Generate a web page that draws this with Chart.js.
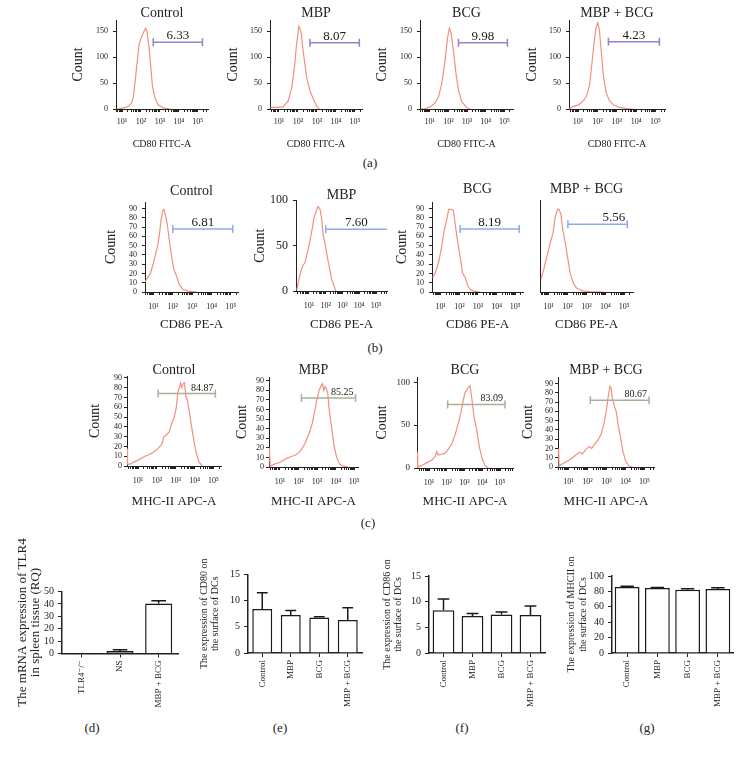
<!DOCTYPE html>
<html>
<head>
<meta charset="utf-8">
<script src="https://cdn.jsdelivr.net/npm/chart.js@4.4.1/dist/chart.umd.min.js"></script>
<style>
  html, body { margin: 0; padding: 0; background: #fff; }
  #fig { position: relative; width: 739px; height: 757px; overflow: hidden; }
  #fig canvas { position: absolute; }
  .cap { position: absolute; font: 13px "Liberation Serif", serif; color: #222; transform: translate(-50%, -50%); white-space: nowrap; }
</style>
</head>
<body>
<div id="fig"></div>
<script>
// ---------- data ----------
const groups = ['Control', 'MBP', 'BCG', 'MBP + BCG'];

// (a) CD80 FITC-A histograms (fluorescence, count)
const cd80ControlX = [5, 12, 21, 32, 40, 48, 65, 81, 110, 145, 182, 214, 275, 339, 407, 550, 813, 1510, 3390];
const cd80ControlY = [0, 2, 5, 12, 24, 50, 95, 127, 140, 150, 156, 147, 115, 76, 44, 21, 8, 2, 0];
const cd80MbpX = [3.6, 7.6, 17, 31, 47, 65, 85, 112, 145, 190, 290, 430, 650, 950, 1320];
const cd80MbpY = [3, 3, 4, 16, 41, 79, 125, 160, 150, 111, 60, 35, 19, 6, 0];
const cd80BcgX = [3.3, 5.6, 10.5, 19, 29, 44, 66, 89, 112, 138, 186, 257, 347, 513, 955, 1445];
const cd80BcgY = [0, 1, 4, 11, 23, 49, 93, 137, 156, 147, 112, 68, 36, 14, 3, 0];
const cd80BothX = [3.5, 5.8, 10.5, 19, 28, 39, 51, 68, 85, 105, 126, 155, 204, 282, 417, 676, 1480, 3310, 7240];
const cd80BothY = [1, 5, 8, 16, 26, 45, 84, 129, 157, 167, 154, 116, 65, 32, 16, 8, 3, 1, 0];
const cd80GateFrom = [447, 427, 347, 372];
const cd80GateTo = [178000, 170000, 145000, 162000];
const cd80GateLevel = [129, 128, 128, 130];
const cd80GatePct = ['6.33', '8.07', '9.98', '4.23'];

// (b) CD86 PE-A histograms
const cd86ControlX = [3.7, 7, 10, 15, 20, 25, 30, 35, 42, 52, 66, 87, 115, 158, 219, 324, 631, 1700];
const cd86ControlY = [11, 20, 31, 46, 60, 78, 87, 89, 83, 73, 56, 38, 24, 17, 8, 3, 1, 0];
const cd86MbpX = [1.9, 2.3, 3.1, 4.3, 5.8, 8.3, 12, 17, 20, 30, 35, 46, 56, 72, 100, 126, 174, 224, 309, 407];
const cd86MbpY = [1, 9, 20, 28, 31, 43, 57, 72, 81, 90, 93, 90, 81, 61, 48, 37, 24, 13, 6, 0];
const cd86BcgX = [3.7, 5, 7.4, 10.5, 15, 21, 27, 36, 48, 59, 79, 110, 151, 204, 282, 380, 575, 1320];
const cd86BcgY = [16, 20, 31, 45, 65, 78, 89, 89, 88, 74, 56, 38, 20, 16, 7, 3, 1, 0];
const cd86BothX = [4, 5.5, 8.1, 12.3, 17, 22, 30, 36, 45, 56, 76, 100, 138, 209, 309, 692, 1550, 7760];
const cd86BothY = [14, 24, 38, 53, 63, 80, 89, 89, 83, 67, 53, 38, 20, 9, 4, 1, 0.5, 0];
const cd86GateFrom = [100, 100, 110, 105];
const cd86GateTo = [123000, 450000, 166000, 145000];
const cd86GateLevel = [68, 68, 68, 73];
const cd86GatePct = ['6.81', '7.60', '8.19', '5.56'];

// (c) MHC-II APC-A histograms
const mhcControlX = [2.6, 2.8, 4, 6, 10, 23, 43, 78, 117, 178, 240, 331, 457, 617, 813, 1050, 1290, 1580, 1780, 2090, 2450, 2880, 3470, 4270, 5370, 6920, 8910, 12300, 17000, 25700];
const mhcControlY = [18, 2, 2, 4, 6, 10, 12, 15, 18, 22, 30, 32, 35, 44, 49, 59, 75, 81, 85, 80, 84, 85, 71, 66, 54, 40, 27, 13, 4, 0];
const mhcMbpX = [2.7, 3, 5.4, 10, 23, 43, 78, 117, 178, 269, 407, 562, 759, 1000, 1290, 1580, 1950, 2290, 2690, 3160, 3720, 4370, 5890, 7760, 11000, 16200, 24500, 45700];
const mhcMbpY = [20, 1, 3, 5, 9, 11, 13, 16, 21, 28, 37, 46, 59, 71, 80, 84, 87, 80, 84, 82, 78, 62, 43, 25, 11, 3, 1, 0];
const mhcBcgX = [2.1, 2.3, 3.9, 7.4, 14, 22, 27, 34, 51, 79, 123, 191, 288, 447, 603, 851, 1070, 1320, 1660, 2040, 2510, 3470, 4900, 6920, 9770, 14100, 21900];
const mhcBcgY = [19, 1, 3, 6, 9, 13, 19, 15, 16, 17, 22, 28, 38, 52, 63, 79, 88, 90, 94, 96, 83, 59, 44, 24, 11, 3, 0];
const mhcBothX = [3, 3.2, 5.4, 10, 19, 28, 40, 54, 81, 123, 166, 229, 355, 537, 741, 1000, 1230, 1510, 1740, 2040, 2630, 3240, 3980, 5370, 7080, 10000, 15100, 22900];
const mhcBothY = [20, 1, 4, 7, 11, 14, 16, 14, 19, 22, 20, 24, 29, 36, 47, 62, 76, 87, 85, 74, 65, 60, 47, 33, 18, 7, 1, 0];
const mhcGateFrom = [115, 145, 112, 141];
const mhcGateTo = [126000, 118000, 190000, 174000];
const mhcGateLevel = [74, 72, 74, 72];
const mhcGatePct = ['84.87', '85.25', '83.09', '80.67'];

// (d)-(g) bar charts: mean and error
const tlr4Groups = ['TLR4\u207B/\u207B', 'NS', 'MBP + BCG'];
const tlr4Mean = [0.3, 2.1, 40.4];
const tlr4Err = [0, 1.0, 2.2];
const cd80Mean = [8.4, 7.25, 6.8, 6.3];
const cd80Err = [3.1, 0.85, 0.15, 2.35];
const cd86Mean = [8.35, 7.2, 7.5, 7.4];
const cd86Err = [2.15, 0.5, 0.5, 1.75];
const mhcMean = [85.7, 84.4, 82.2, 83.1];
const mhcErr = [1.0, 0.8, 1.2, 1.5];

// ---------- styling / helpers ----------
const SERIF = '"Liberation Serif", "DejaVu Serif", serif';
const AX = '#222';
const TXT = '#222';
const HIST = '#f2907f';
const SUP = ['\u2070', '\u00B9', '\u00B2', '\u00B3', '\u2074', '\u2075'];
const fig = document.getElementById('fig');

Chart.defaults.font.family = SERIF;
Chart.defaults.color = TXT;

function logTicks(scale) {
  const out = [];
  for (let d = -1; d <= 6; d++) {
    for (let k = 1; k <= 9; k++) {
      const v = k * Math.pow(10, d);
      if (v >= scale.min && v <= scale.max) out.push({ value: v });
    }
  }
  scale.ticks = out;
}

function decadeLabel(v) {
  const e = Math.log10(v);
  const r = Math.round(e);
  if (Math.abs(e - r) < 1e-6 && r >= 1 && r <= 5) return '10' + SUP[r];
  return '';
}

const gateLabel = {
  id: 'gateLabel',
  afterDatasetsDraw(chart, args, opts) {
    const pts = chart.getDatasetMeta(1).data;
    if (!pts.length) return;
    const ctx = chart.ctx;
    const x1 = Math.min(pts[1].x, chart.chartArea.right);
    ctx.save();
    ctx.font = opts.size + 'px ' + SERIF;
    ctx.fillStyle = '#1a1a1a';
    ctx.textBaseline = 'alphabetic';
    if (opts.align === 'right') {
      ctx.textAlign = 'right';
      ctx.fillText(opts.text, x1 - 2, pts[0].y - opts.lift);
    } else {
      ctx.textAlign = 'center';
      ctx.fillText(opts.text, (pts[0].x + x1) / 2, pts[0].y - opts.lift);
    }
    ctx.restore();
  }
};

const errorBars = {
  id: 'errorBars',
  afterDatasetsDraw(chart) {
    const ds = chart.data.datasets[0];
    const meta = chart.getDatasetMeta(0);
    const y = chart.scales.y;
    const ctx = chart.ctx;
    ctx.save();
    ctx.strokeStyle = '#1a1a1a';
    ctx.lineWidth = 1.5;
    meta.data.forEach((bar, i) => {
      const err = ds.errors[i];
      if (!err) return;
      const top = y.getPixelForValue(ds.data[i] + err);
      const cw = bar.width * 0.27;
      ctx.beginPath();
      ctx.moveTo(bar.x, bar.y);
      ctx.lineTo(bar.x, top);
      ctx.moveTo(bar.x - cw, top);
      ctx.lineTo(bar.x + cw, top);
      ctx.stroke();
    });
    ctx.restore();
  }
};

function addCanvas(left, top, w, h) {
  const cv = document.createElement('canvas');
  cv.width = w;
  cv.height = h;
  cv.style.left = left + 'px';
  cv.style.top = top + 'px';
  fig.appendChild(cv);
  return cv;
}

function histogram(p) {
  const left = Math.round(p.count != null ? p.count - 7 : p.axis - 6);
  const top = Math.round(p.titleY - 7);
  const bottom = Math.round(p.xTitleY + p.xFont / 2);
  const right = Math.round(p.right + 8);
  const yW = p.axis - left;
  const xH = bottom - p.bottom;
  const cv = addCanvas(left, top, right - left, bottom - top);
  new Chart(cv, {
    type: 'line',
    data: {
      datasets: [
        {
          data: p.x.map((v, i) => ({ x: v, y: p.y[i] })),
          borderColor: HIST, borderWidth: 1.2, pointRadius: 0, tension: 0
        },
        {
          data: [{ x: p.gate[0], y: p.gate[2] }, { x: p.gate[1], y: p.gate[2] }],
          borderColor: p.gateColor, borderWidth: 1.5,
          pointStyle: 'line', pointRotation: 90,
          pointRadius: [4, p.capEnd === false ? 0 : 4],
          pointBorderColor: p.gateColor, pointBorderWidth: 1.5
        }
      ]
    },
    options: {
      responsive: false, animation: false, events: [],
      layout: { padding: { right: 8 } },
      plugins: {
        legend: { display: false },
        tooltip: { enabled: false },
        title: {
          display: true, text: p.title, color: TXT, fullSize: false,
          font: { family: SERIF, size: 14, weight: 'normal', lineHeight: 1 },
          padding: { top: 0, bottom: p.top - top - 14 }
        },
        gateLabel: { text: p.gate[3], align: p.labelAlign, size: p.labelSize, lift: p.lift }
      },
      scales: {
        x: {
          type: 'logarithmic', min: p.xMin, max: p.xMax,
          afterBuildTicks: logTicks,
          afterFit: (s) => { s.height = xH; },
          border: { color: AX, width: 1 },
          grid: { drawOnChartArea: false, color: AX, tickLength: 3 },
          ticks: {
            autoSkip: false, maxRotation: 0, minRotation: 0, padding: p.xPad,
            color: TXT, font: { family: SERIF, size: 8 }, callback: decadeLabel
          },
          title: {
            display: true, text: p.xTitle, color: TXT, padding: 0,
            font: { family: SERIF, size: p.xFont, lineHeight: 1 }
          }
        },
        y: {
          min: 0, max: p.yMax,
          afterFit: (s) => { s.width = yW; },
          border: { color: AX, width: 1 },
          grid: { display: p.yLabels !== false, drawOnChartArea: false, color: AX, tickLength: 3 },
          ticks: {
            display: p.yLabels !== false, stepSize: p.yStep, includeBounds: false, autoSkip: false,
            padding: p.yPad, color: TXT, font: { family: SERIF, size: p.yFont }
          },
          title: {
            display: p.count != null, text: 'Count', color: TXT, padding: 0,
            font: { family: SERIF, size: 14, lineHeight: 1 }
          }
        }
      }
    },
    plugins: [gateLabel]
  });
}

function barPanel(p) {
  const left = Math.round(p.titleX - p.titleLh / 2);
  const top = 525;
  const bottom = 720;
  const right = Math.round(p.right + 6);
  const yW = p.axis - left;
  const xH = bottom - p.bottom;
  const cv = addCanvas(left, top, right - left, bottom - top);
  new Chart(cv, {
    type: 'bar',
    data: {
      labels: p.labels,
      datasets: [{
        data: p.values, errors: p.errors,
        backgroundColor: p.fills, borderColor: '#1a1a1a', borderWidth: 1.5,
        barPercentage: p.barPct, categoryPercentage: 1
      }]
    },
    options: {
      responsive: false, animation: false, events: [],
      layout: { padding: { top: p.top - top, right: 6 } },
      plugins: { legend: { display: false }, tooltip: { enabled: false } },
      scales: {
        x: {
          afterFit: (s) => { s.height = xH; },
          border: { color: AX, width: 1.5 },
          grid: { drawOnChartArea: false, offset: false, color: AX, tickLength: 4 },
          ticks: {
            autoSkip: false, maxRotation: 90, minRotation: 90, padding: 3,
            color: TXT, font: { family: SERIF, size: 9 }
          }
        },
        y: {
          min: 0, max: p.yMax,
          afterFit: (s) => { s.width = yW; },
          border: { color: AX, width: 1.5 },
          grid: { drawOnChartArea: false, color: AX, tickLength: 4 },
          ticks: { stepSize: p.yStep, autoSkip: false, padding: 4, color: TXT, font: { family: SERIF, size: 10 } },
          title: {
            display: true, text: p.yTitle, color: TXT, padding: 0,
            font: { family: SERIF, size: p.titleSize, lineHeight: p.titleLh / p.titleSize }
          }
        }
      }
    },
    plugins: [errorBars]
  });
}

// ---------- panels ----------
const rowA = { xTitle: 'CD80 FITC-A', xFont: 10, xPad: 5, titleY: 13, top: 20, bottom: 109, xTitleY: 144,
  yMax: 172, yStep: 50, yFont: 8, yPad: 5, gateColor: '#9b7ec6', labelSize: 13, labelAlign: 'center', lift: 3 };
const rowB = { xTitle: 'CD86 PE-A', xFont: 13, xPad: 7, top: 202, bottom: 292, xTitleY: 324,
  yMax: 97, yStep: 10, yFont: 8, yPad: 5, gateColor: '#8eacea', labelSize: 13, labelAlign: 'center', lift: 3 };
const rowC = { xTitle: 'MHC-II APC-A', xFont: 13, xPad: 7, titleY: 370, top: 377, bottom: 467, xTitleY: 501,
  yMax: 92, yStep: 10, yFont: 8, yPad: 2, gateColor: '#a3b394', labelSize: 10, labelAlign: 'right', lift: 3 };

const cd80X = [cd80ControlX, cd80MbpX, cd80BcgX, cd80BothX];
const cd80Y = [cd80ControlY, cd80MbpY, cd80BcgY, cd80BothY];
const cd86X = [cd86ControlX, cd86MbpX, cd86BcgX, cd86BothX];
const cd86Y = [cd86ControlY, cd86MbpY, cd86BcgY, cd86BothY];
const mhcX = [mhcControlX, mhcMbpX, mhcBcgX, mhcBothX];
const mhcY = [mhcControlY, mhcMbpY, mhcBcgY, mhcBothY];

const histPanels = [
  { row: rowA, i: 0, axis: 116, right: 208, count: 78, xMin: 4.8, xMax: 350000 },
  { row: rowA, i: 1, axis: 270, right: 362, count: 233, xMin: 3.4, xMax: 234000 },
  { row: rowA, i: 2, axis: 420, right: 513, count: 382, xMin: 3, xMax: 290000 },
  { row: rowA, i: 3, axis: 569, right: 665, count: 532, xMin: 3.4, xMax: 316000 },
  { row: rowB, i: 0, axis: 145, right: 238, count: 111, titleY: 191, xMin: 3.7, xMax: 230000 },
  { row: rowB, i: 1, axis: 296, right: 387, count: 260, titleY: 195, top: 200, bottom: 291, xMin: 1.7, xMax: 450000,
    yMax: 100, yStep: 50, yFont: 12, capEnd: false },
  { row: rowB, i: 2, axis: 432, right: 523, count: 402, titleY: 189, xMin: 3.4, xMax: 263000 },
  { row: rowB, i: 3, axis: 540, right: 633, count: null, titleY: 189, top: 200, xMin: 3.6, xMax: 290000,
    yMax: 99, yLabels: false, labelAlign: 'right' },
  { row: rowC, i: 0, axis: 127, right: 221, count: 95, top: 376, bottom: 466, xMin: 2.6, xMax: 250000 },
  { row: rowC, i: 1, axis: 269, right: 359, count: 242, yMax: 94, xMin: 2.6, xMax: 160000 },
  { row: rowC, i: 2, axis: 417, right: 513, count: 382, bottom: 468, xMin: 2.1, xMax: 540000,
    yMax: 106, yStep: 50, yFont: 9, yPad: 4 },
  { row: rowC, i: 3, axis: 558, right: 654, count: 528, yMax: 97, xMin: 2.8, xMax: 316000 }
];

histPanels.forEach((hp) => {
  const r = hp.row;
  const isA = r === rowA, isB = r === rowB;
  const X = isA ? cd80X : isB ? cd86X : mhcX;
  const Y = isA ? cd80Y : isB ? cd86Y : mhcY;
  const gf = isA ? cd80GateFrom : isB ? cd86GateFrom : mhcGateFrom;
  const gt = isA ? cd80GateTo : isB ? cd86GateTo : mhcGateTo;
  const gl = isA ? cd80GateLevel : isB ? cd86GateLevel : mhcGateLevel;
  const gp = isA ? cd80GatePct : isB ? cd86GatePct : mhcGatePct;
  const p = Object.assign({}, r, hp);
  p.title = groups[hp.i];
  p.x = X[hp.i];
  p.y = Y[hp.i];
  p.gate = [gf[hp.i], gt[hp.i], gl[hp.i], gp[hp.i]];
  histogram(p);
});

barPanel({ labels: tlr4Groups, values: tlr4Mean, errors: tlr4Err, fills: ['#fff', '#8a8a8a', '#fff'],
  axis: 62, right: 178, top: 591.5, bottom: 653.5, titleX: 22, titleSize: 13, titleLh: 13,
  yMax: 50, yStep: 10, barPct: 0.7,
  yTitle: ['The mRNA expression of TLR4', 'in spleen tissue (RQ)'] });
barPanel({ labels: groups, values: cd80Mean, errors: cd80Err, fills: '#fff',
  axis: 248, right: 362, top: 574.5, bottom: 653, titleX: 204, titleSize: 10, titleLh: 11,
  yMax: 15, yStep: 5, barPct: 0.7,
  yTitle: ['The expression of CD80 on', 'the surface of DCs'] });
barPanel({ labels: groups, values: cd86Mean, errors: cd86Err, fills: '#fff',
  axis: 429, right: 545, top: 576, bottom: 653, titleX: 387, titleSize: 10, titleLh: 11,
  yMax: 15, yStep: 5, barPct: 0.75,
  yTitle: ['The expression of CD86 on', 'the surface of DCs'] });
barPanel({ labels: groups, values: mhcMean, errors: mhcErr, fills: '#fff',
  axis: 612, right: 733, top: 576, bottom: 653, titleX: 571, titleSize: 10, titleLh: 12,
  yMax: 100, yStep: 20, barPct: 0.82,
  yTitle: ['The expression of MHCII on', 'the surface of DCs'] });

// panel captions
[['(a)', 370, 163], ['(b)', 375, 348], ['(c)', 368, 523],
 ['(d)', 92, 728], ['(e)', 280, 728], ['(f)', 462, 728], ['(g)', 647, 728]].forEach(([t, x, y]) => {
  const d = document.createElement('div');
  d.className = 'cap';
  d.textContent = t;
  d.style.left = x + 'px';
  d.style.top = y + 'px';
  fig.appendChild(d);
});
</script>
</body>
</html>
